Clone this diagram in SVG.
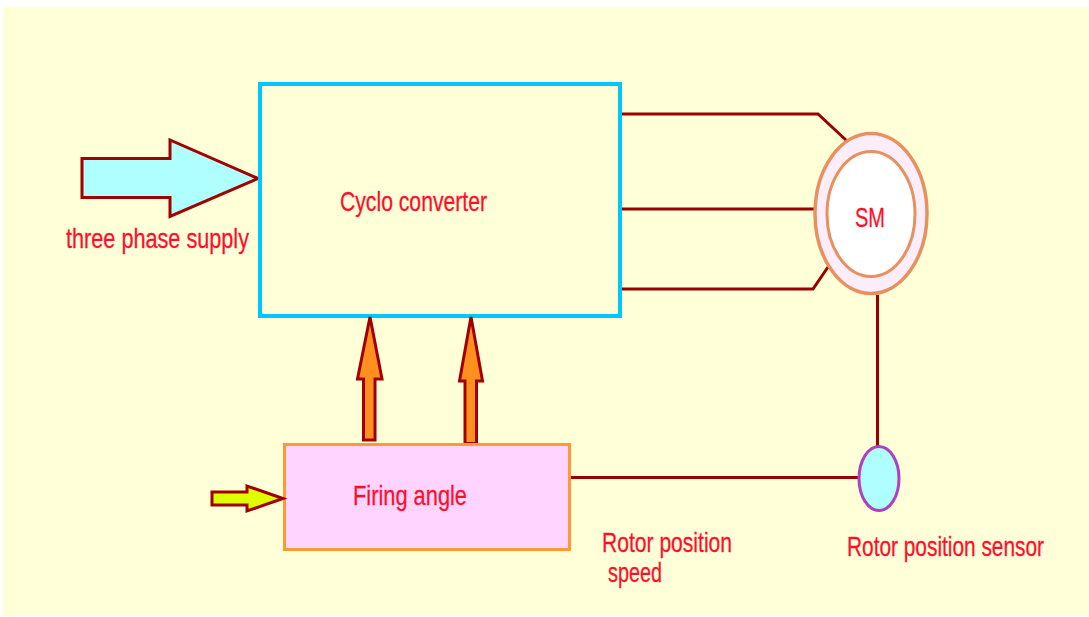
<svg xmlns="http://www.w3.org/2000/svg" width="1089" height="617" viewBox="0 0 1089 617">
<style>
.lbl{font-family:"Liberation Sans",Arial,sans-serif;font-size:21.3px;fill:#FF0D2D;stroke:#FF0D2D;stroke-width:0.2}
.wire{stroke:#990000;stroke-width:3;fill:none}
.arr{stroke:#A00000;stroke-width:3;stroke-linejoin:miter}
</style>
<rect x="0" y="0" width="1089" height="617" fill="#FFFFFF"/>
<rect x="3" y="7" width="1086" height="609" fill="#FFFFD8"/>
<g id="connectors">
<polyline class="wire" points="622,114 818,114 847,141"/>
<line class="wire" x1="622" y1="209" x2="818" y2="209"/>
<polyline class="wire" points="622,289 813,289 828,267"/>
<line class="wire" x1="877.5" y1="295" x2="877.5" y2="446"/>
<line class="wire" x1="571" y1="477.5" x2="858" y2="477.5"/>
</g>
<g id="supply-arrow">
<polygon class="arr" fill="#B0FFFF" points="82,158.5 170,158.5 170,140 258,178.5 170,216.5 170,197.5 82,197.5"/>
<text class="lbl" transform="translate(66,248) scale(1,1.28)" textLength="183" lengthAdjust="spacingAndGlyphs">three phase supply</text>
</g>
<g id="cyclo-converter">
<rect x="260" y="84" width="360" height="232" fill="none" stroke="#00C8FF" stroke-width="4"/>
<text class="lbl" transform="translate(340,211) scale(1,1.28)" textLength="147" lengthAdjust="spacingAndGlyphs">Cyclo converter</text>
</g>
<g id="gate-arrows">
<polygon class="arr" fill="#FF9020" points="370,317 382,379 375,379 375,440 363.5,440 363.5,379 357.5,379"/>
<polygon class="arr" fill="#FF9020" points="471,317 482.5,381 476.5,381 476.5,443.5 465,443.5 465,381 459.5,381"/>
</g>
<g id="motor">
<ellipse cx="871" cy="213.5" rx="56" ry="80" fill="#FBEEFA" stroke="#E8905E" stroke-width="3.5"/>
<ellipse cx="871" cy="214" rx="44" ry="62.5" fill="#FFFFFF" stroke="#E8905E" stroke-width="3"/>
<text class="lbl" transform="translate(855,226.5) scale(1,1.28)" textLength="30" lengthAdjust="spacingAndGlyphs">SM</text>
</g>
<g id="firing-angle">
<rect x="284.5" y="444.5" width="285" height="105" fill="#FFD5FF" stroke="#FF9933" stroke-width="3"/>
<text class="lbl" transform="translate(353,505) scale(1,1.28)" textLength="114" lengthAdjust="spacingAndGlyphs">Firing angle</text>
</g>
<g id="reference-arrow">
<polygon class="arr" fill="#DDFF00" points="212,492 247,492 247,486 283,498.5 247,511 247,505 212,505"/>
</g>
<g id="rotor-sensor">
<ellipse cx="879" cy="478.5" rx="20" ry="32" fill="#B0FFFF" stroke="#B040C0" stroke-width="3"/>
<text class="lbl" transform="translate(847,556) scale(1,1.28)" textLength="197" lengthAdjust="spacingAndGlyphs">Rotor position sensor</text>
</g>
<g id="feedback-label">
<text class="lbl" transform="translate(602,552) scale(1,1.28)" textLength="130" lengthAdjust="spacingAndGlyphs">Rotor position</text>
<text class="lbl" transform="translate(608,582) scale(1,1.28)" textLength="54" lengthAdjust="spacingAndGlyphs">speed</text>
</g>
</svg>
